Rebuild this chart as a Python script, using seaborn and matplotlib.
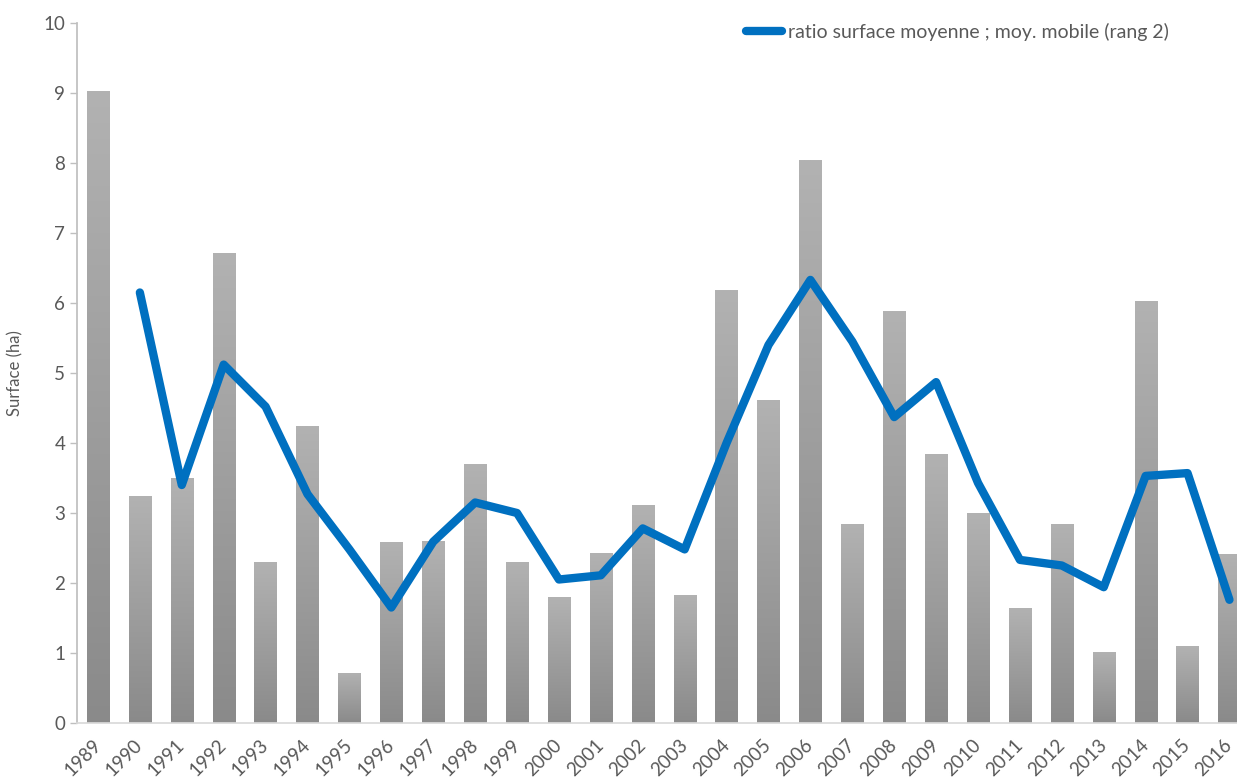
import numpy as np
import pandas as pd
import matplotlib
matplotlib.use("Agg")
import matplotlib.pyplot as plt
import seaborn as sns

# Données
annees = [str(a) for a in range(1989, 2017)]
surface = [9.03, 3.25, 3.50, 6.72, 2.30, 4.24, 0.72, 2.58, 2.60, 3.70,
           2.30, 1.80, 2.43, 3.12, 1.83, 6.18, 4.62, 8.04, 2.85, 5.88,
           3.85, 3.00, 1.65, 2.85, 1.02, 6.03, 1.10, 2.42]
# moyenne mobile (rang 2), à partir de 1990
moy_mobile = [6.15, 3.40, 5.12, 4.52, 3.27, 2.48, 1.65, 2.59, 3.15, 3.00,
              2.05, 2.11, 2.78, 2.48, 4.00, 5.40, 6.33, 5.45, 4.37, 4.87,
              3.43, 2.33, 2.25, 1.94, 3.53, 3.57, 1.76]

df = pd.DataFrame({"annee": annees, "surface": surface})
df_mm = pd.DataFrame({"annee": annees[1:], "mm": moy_mobile})

sns.set_theme(style="white")
plt.rcParams["font.family"] = ["Lato", "DejaVu Sans"]

fig = plt.figure(figsize=(12.37, 7.8), dpi=100)
ax = fig.add_axes([77 / 1237, 57 / 780, 1 - 77 / 1237, 700 / 780])

sns.barplot(data=df, x="annee", y="surface", color="#a6a6a6", width=0.53,
            saturation=1, ax=ax)

# dégradé gris sur chaque barre (plus clair en haut)
grad = np.linspace(0, 1, 256).reshape(-1, 1)
cmap = matplotlib.colors.LinearSegmentedColormap.from_list("g", ["#8a8a8a", "#b2b2b2"])
for p in ax.patches:
    x0, y0 = p.get_x(), p.get_y()
    w, h = p.get_width(), p.get_height()
    im = ax.imshow(grad, extent=[x0, x0 + w, y0, y0 + h], origin="lower",
                   cmap=cmap, aspect="auto", zorder=p.get_zorder())
    im.set_clip_path(p)
    p.set_facecolor("none")
    p.set_edgecolor("none")

sns.lineplot(data=df_mm, x="annee", y="mm", color="#0070c0", linewidth=6,
             sort=False, ax=ax, label="ratio surface moyenne ; moy. mobile (rang 2)",
             solid_capstyle="round", solid_joinstyle="round", zorder=5)

ax.set_xlim(-0.5, 27.18)
ax.set_ylim(0, 10)
ax.set_yticks(range(0, 11))
ax.set_xlabel("")
ax.set_ylabel("Surface (ha)", fontsize=12, color="#595959", labelpad=14)
ax.tick_params(axis="y", labelsize=13.5, colors="#595959", length=5, width=1,
               color="#bfbfbf", left=True)
ax.tick_params(axis="x", labelsize=13.5, colors="#595959", length=0, pad=14)
for lab in ax.get_xticklabels():
    lab.set_rotation(45)
    lab.set_ha("right")
    lab.set_va("center")
    lab.set_rotation_mode("anchor")

for s in ["top", "right"]:
    ax.spines[s].set_visible(False)
ax.spines["left"].set_color("#bfbfbf")
ax.spines["bottom"].set_color("#d9d9d9")

ax.legend(loc="center left", bbox_to_anchor=(728 / 1237, 1 - 32 / 780),
          bbox_transform=fig.transFigure, frameon=False, fontsize=14,
          handlelength=1.9, handletextpad=0.3, labelcolor="#595959")

fig.savefig("out.png", dpi=100)
